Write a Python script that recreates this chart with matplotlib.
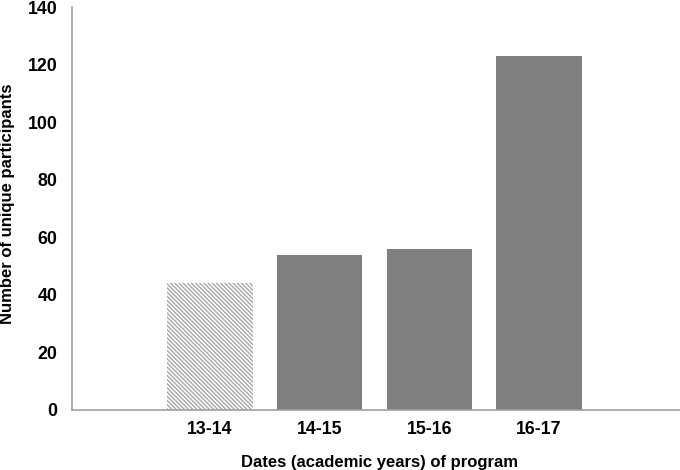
import matplotlib
matplotlib.use("Agg")
import matplotlib.pyplot as plt

categories = ["13-14", "14-15", "15-16", "16-17"]
values = [44, 54, 56, 123]
hatched = [True, False, False, False]

plt.rcParams['font.family'] = ['Liberation Sans', 'DejaVu Sans']
plt.rcParams['font.weight'] = 'bold'
plt.rcParams['hatch.color'] = '#a8a8a8'
plt.rcParams['hatch.linewidth'] = 1.0

fig = plt.figure(figsize=(6.8, 4.7), dpi=100)
ax = fig.add_axes([71.5/680, 60/470, (680-71.5)/680 + 0.01, 403/470])

x = list(range(len(categories)))
for xi, v, h in zip(x, values, hatched):
    if h:
        ax.bar(xi, v, width=0.78, color='white', edgecolor='#a8a8a8', hatch='\\' * 8, linewidth=0)
    else:
        ax.bar(xi, v, width=0.78, color='#808080', edgecolor='none')

ax.set_xlim(-1.265, 4.35)
ax.set_ylim(0, 140)
ax.set_yticks(range(0, 141, 20))
ax.set_xticks(x)
ax.set_xticklabels(categories)
ax.tick_params(axis='both', length=0, labelsize=12.8)
ax.tick_params(axis='y', pad=10)
ax.tick_params(axis='x', pad=8)
for lab in ax.get_xticklabels() + ax.get_yticklabels():
    lab.set_fontweight('bold')
for s in ['top', 'right']:
    ax.spines[s].set_visible(False)
for s in ['left', 'bottom']:
    ax.spines[s].set_color('#a0a0a0')
    ax.spines[s].set_linewidth(1.2)

ax.set_xlabel("Dates (academic years) of program", fontsize=12, fontweight='bold', labelpad=12.5)
ax.set_ylabel("Number of unique participants", fontsize=12, fontweight='bold')
ax.yaxis.set_label_coords(-0.092, 0.513)

fig.savefig("out.png", dpi=100)
